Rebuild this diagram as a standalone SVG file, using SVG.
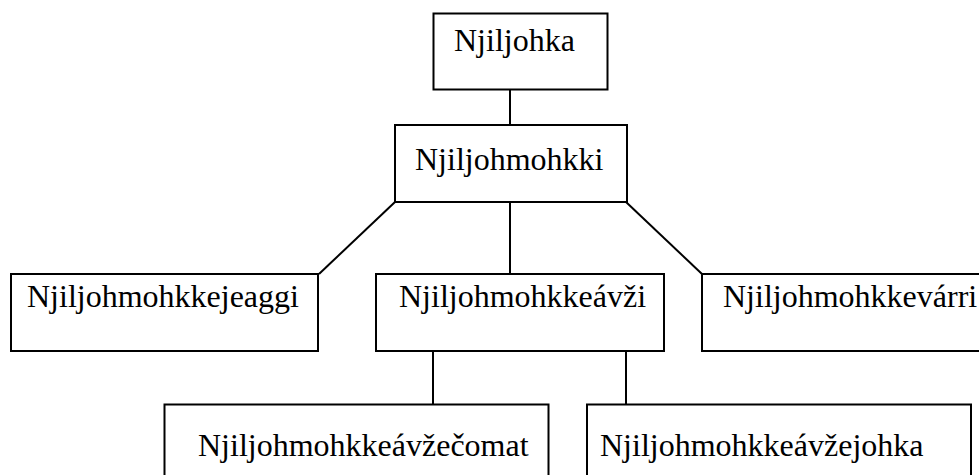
<svg xmlns="http://www.w3.org/2000/svg" width="979" height="475" viewBox="0 0 979 475">
<style>
.box{fill:#fff;stroke:#000;stroke-width:2}
.lbl{font-family:"Liberation Serif","Times New Roman",serif;font-size:32px;fill:#000}
.con{stroke:#000;stroke-width:2;fill:none}
</style>
<rect width="979" height="475" fill="#fff"/>
<g id="connectors">
<line class="con" x1="510" y1="89" x2="510" y2="125"/>
<line class="con" x1="510" y1="202" x2="510" y2="274"/>
<line class="con" x1="395" y1="202" x2="319" y2="274"/>
<line class="con" x1="626" y1="202" x2="702" y2="274"/>
<line class="con" x1="433" y1="351" x2="433" y2="405"/>
<line class="con" x1="626" y1="351" x2="626" y2="405"/>
</g>
<g id="n1"><rect class="box" x="433.5" y="13.5" width="174" height="76"/><text class="lbl" x="454" y="51">Njiljohka</text></g>
<g id="n2"><rect class="box" x="395" y="125" width="232" height="77"/><text class="lbl" x="415" y="170">Njiljohmohkki</text></g>
<g id="n3"><rect class="box" x="11" y="274" width="307" height="77"/><text class="lbl" x="27" y="307">Njiljohmohkkejeaggi</text></g>
<g id="n4"><rect class="box" x="376" y="274" width="288" height="77"/><text class="lbl" x="399" y="307">Njiljohmohkkeávži</text></g>
<g id="n5"><rect class="box" x="702" y="274" width="290" height="77"/><text class="lbl" x="723" y="307">Njiljohmohkkevárri</text></g>
<g id="n6"><rect class="box" x="164.5" y="404.5" width="384" height="90"/><text class="lbl" x="198" y="456">Njiljohmohkkeávžečomat</text></g>
<g id="n7"><rect class="box" x="587" y="404.5" width="384" height="90"/><text class="lbl" x="600" y="456">Njiljohmohkkeávžejohka</text></g>
</svg>
